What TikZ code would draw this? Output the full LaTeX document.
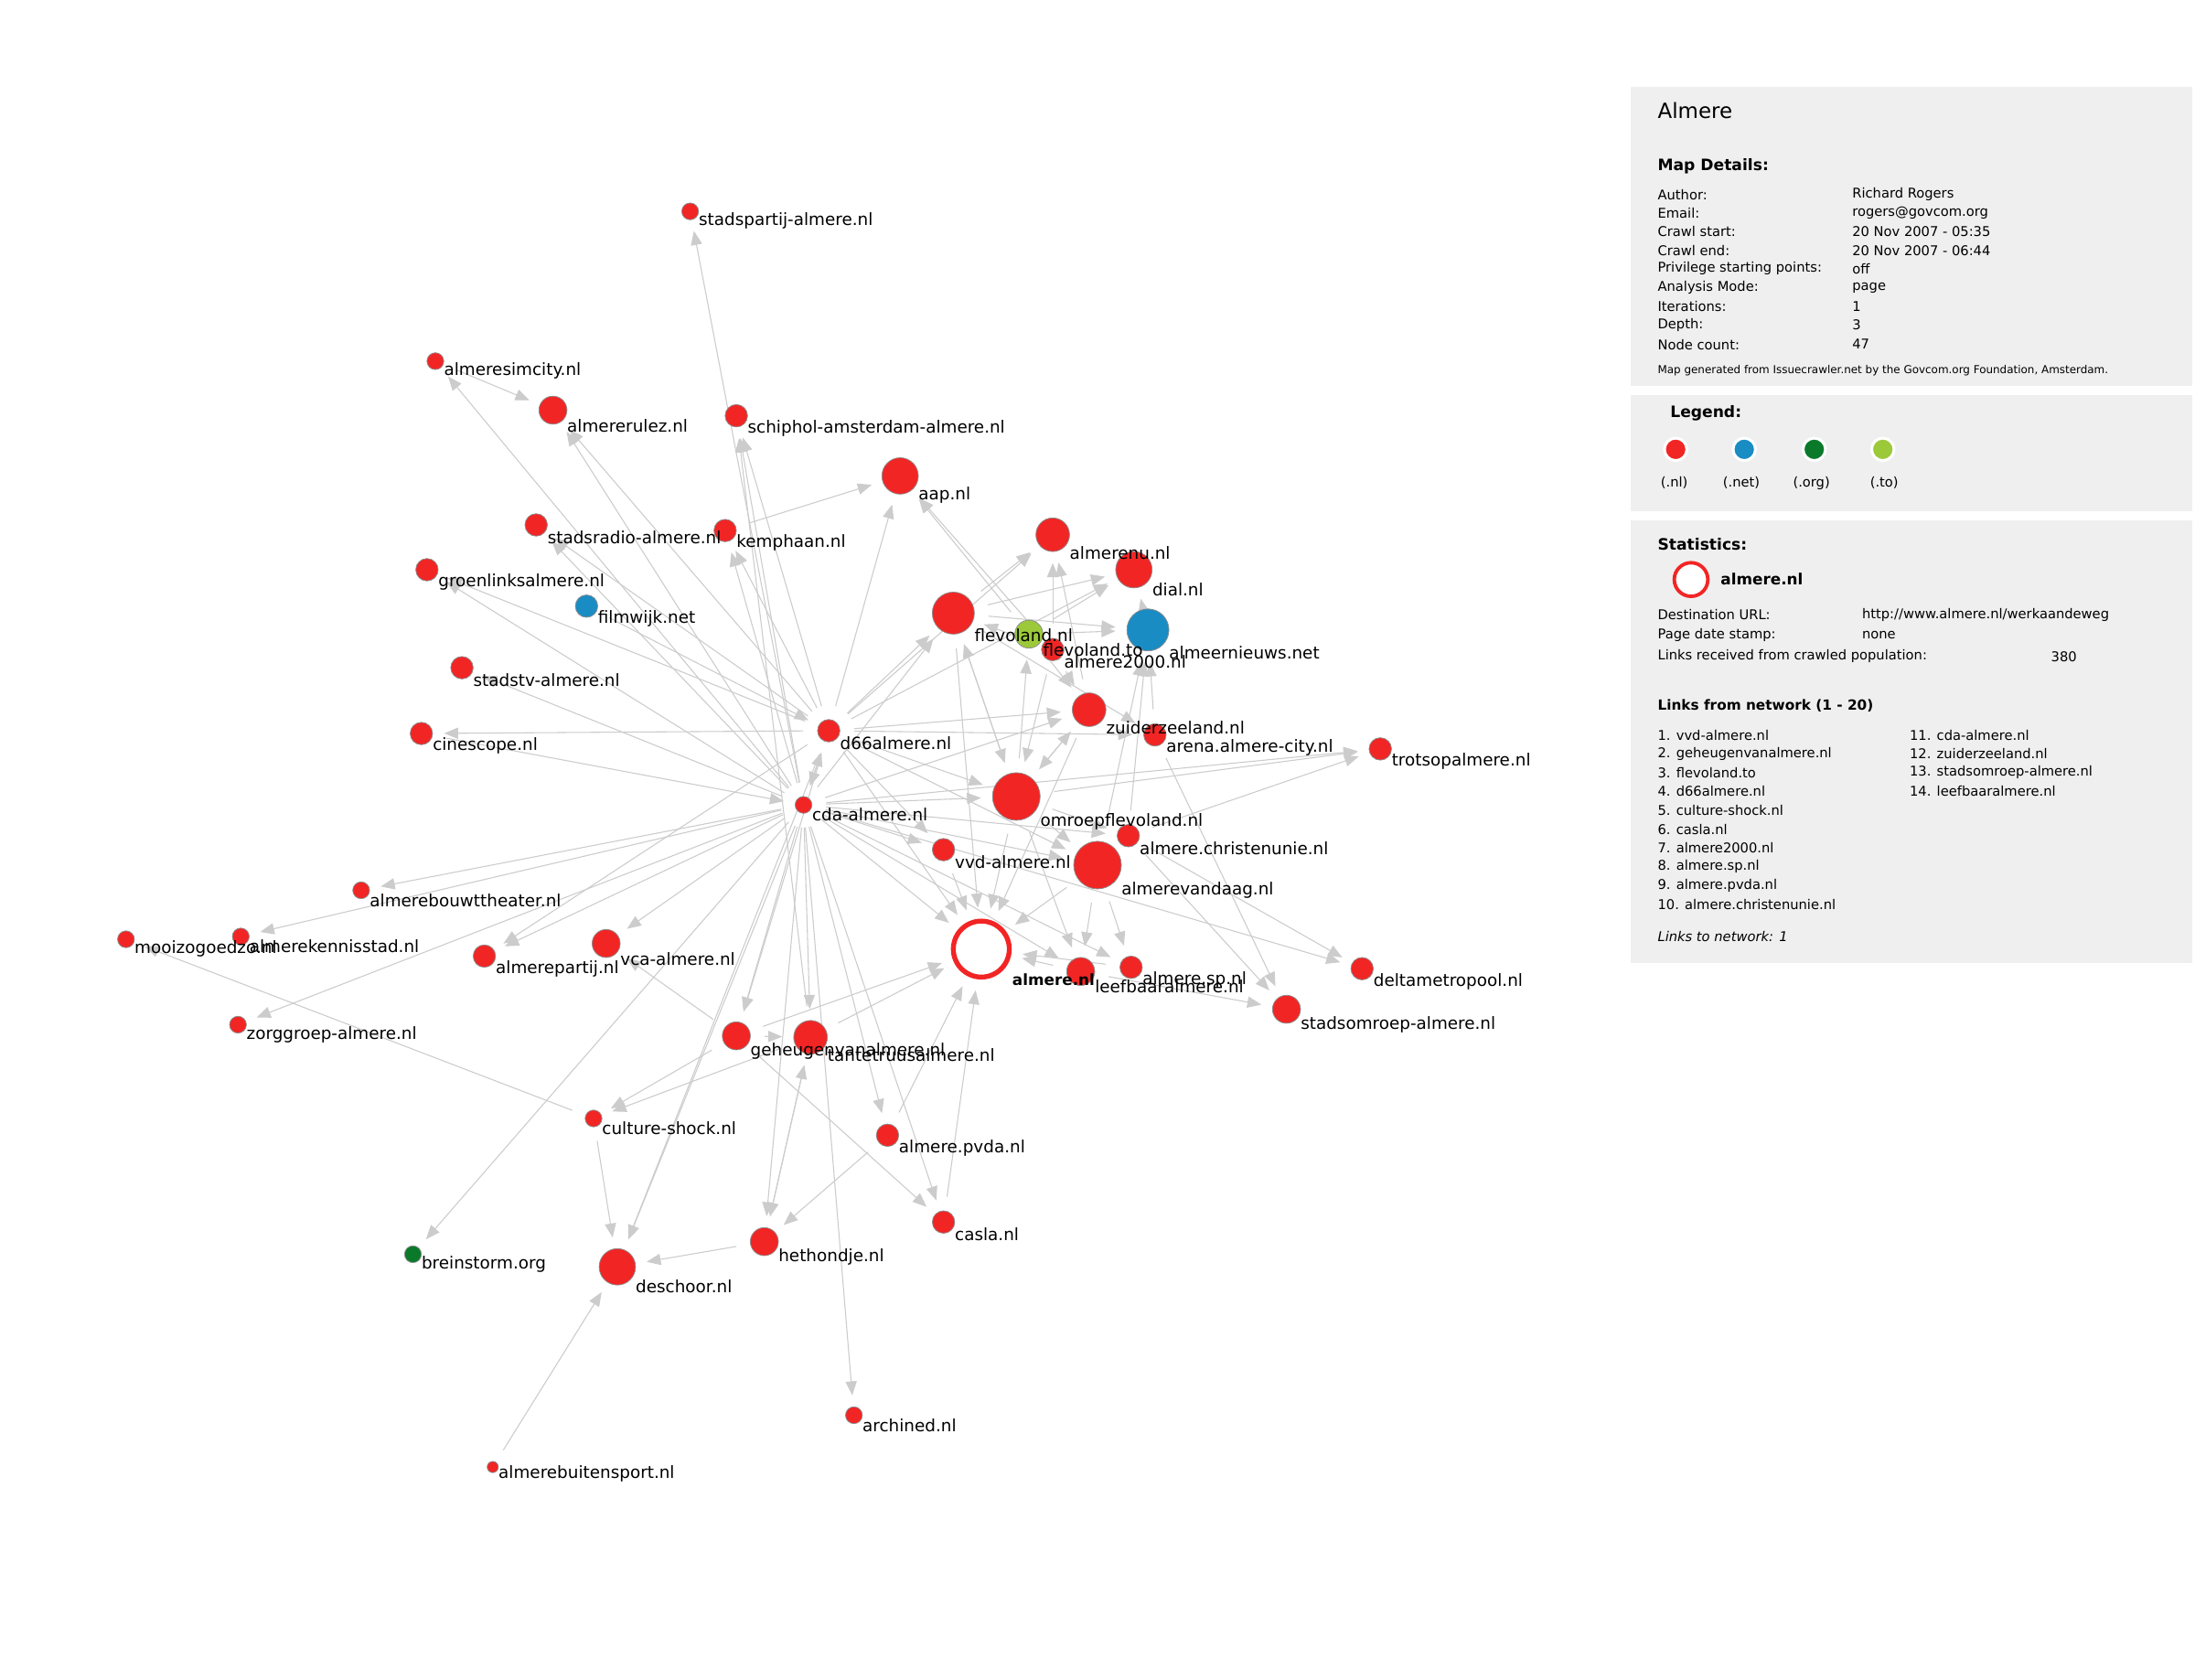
\documentclass[tikz,border=0pt]{standalone}
\usepackage{fontspec}
\setmainfont{DejaVu Sans}
\usetikzlibrary{arrows.meta}
\definecolor{nlred}{HTML}{F22525}
\definecolor{netblue}{HTML}{1A8CC4}
\definecolor{orggreen}{HTML}{0A7A2A}
\definecolor{togreen}{HTML}{9CC93A}
\definecolor{edgec}{HTML}{CCCCCC}
\definecolor{panelbg}{HTML}{EFEFEF}
\pgfdeclarelayer{paper}\pgfdeclarelayer{bg}\pgfdeclarelayer{fg}\pgfsetlayers{paper,bg,main,fg}
\newcommand{\site}[7]{%
  \node[dot, fill=#5, minimum size=2*#4] (#1) at (#2,#3) {};
  \begin{pgfonlayer}{fg}\node[lbl,#7] (#1-l) at (#2+#4,#3+#4+1) {#6};\end{pgfonlayer}}
\newcommand{\prow}[4]{% name, y, label, value
  \node[ptxt] (#1a) at (1184,#2) {#3};
  \node[ptxt] (#1b) at (1323,#2) {#4};}
\begin{document}
\begin{tikzpicture}[x=1pt,y=-1pt,
  dot/.style={circle, draw=black!45, line width=0.5pt, inner sep=0pt},
  lbl/.style={anchor=west, inner sep=0pt, font=\fontsize{12}{12}\selectfont},
  lnk/.style={draw=edgec, line width=0.7pt, -{Triangle[length=10pt,width=8pt]}, shorten <=10pt, shorten >=8pt},
  panel/.style={fill=panelbg, draw=none},
  ptxt/.style={anchor=west, inner sep=0pt, font=\fontsize{9.6}{10}\selectfont},
  phead/.style={anchor=west, inner sep=0pt, font=\fontsize{11.2}{12}\selectfont\bfseries},
  leg/.style={circle, draw=white, line width=2pt, inner sep=0pt, minimum size=16}]
\useasboundingbox (0,0) rectangle (1568,1200);
\begin{pgfonlayer}{paper}\fill[white] (0,0) rectangle (1568,1200);\end{pgfonlayer}

% ---------- nodes ----------
\site{spa}{493}{151}{6}{nlred}{stadspartij-almere.nl}{}
\site{sim}{311}{258}{6}{nlred}{almeresimcity.nl}{}
\site{rul}{395}{293}{10}{nlred}{almererulez.nl}{}
\site{sch}{526}{297}{8}{nlred}{schiphol-amsterdam-almere.nl}{}
\site{aap}{643}{340}{13}{nlred}{aap.nl}{}
\site{sra}{383}{375}{8}{nlred}{stadsradio-almere.nl}{}
\site{kem}{518}{379}{8}{nlred}{kemphaan.nl}{}
\site{anu}{752}{382}{12}{nlred}{almerenu.nl}{}
\site{dial}{810}{407}{13}{nlred}{dial.nl}{}
\site{gl}{305}{407}{8}{nlred}{groenlinksalmere.nl}{}
\site{fw}{419}{433}{8}{netblue}{filmwijk.net}{}
\site{fnl}{681}{438}{15}{nlred}{flevoland.nl}{}
\site{fto}{735}{453}{10}{togreen}{flevoland.to}{}
\site{a2k}{752}{464}{8}{nlred}{almere2000.nl}{}
\site{anw}{820}{450}{15}{netblue}{almeernieuws.net}{}
\site{stv}{330}{477}{8}{nlred}{stadstv-almere.nl}{}
\site{d66}{592}{522}{8}{nlred}{d66almere.nl}{}
\site{zz}{778}{507}{12}{nlred}{zuiderzeeland.nl}{}
\site{are}{825}{525}{8}{nlred}{arena.almere-city.nl}{}
\site{tro}{986}{535}{8}{nlred}{trotsopalmere.nl}{}
\site{cin}{301}{524}{8}{nlred}{cinescope.nl}{}
\site{cda}{574}{575}{6}{nlred}{cda-almere.nl}{}
\site{omr}{726}{569}{17}{nlred}{omroepflevoland.nl}{}
\site{cu}{806}{597}{8}{nlred}{almere.christenunie.nl}{}
\site{vvd}{674}{607}{8}{nlred}{vvd-almere.nl}{}
\site{avd}{784}{618}{17}{nlred}{almerevandaag.nl}{}
\site{abt}{258}{636}{6}{nlred}{almerebouwttheater.nl}{}
\site{mzg}{90}{671}{6}{nlred}{mooizogoedzo.nl}{}
\site{aks}{172}{669}{6}{nlred}{almerekennisstad.nl}{}
\site{vca}{433}{674}{10}{nlred}{vca-almere.nl}{}
\site{apa}{346}{683}{8}{nlred}{almerepartij.nl}{}
\node[circle, draw=nlred, line width=3.5pt, fill=white, inner sep=0pt, minimum size=40] (alm) at (701,678) {};
\begin{pgfonlayer}{fg}\node[lbl, font=\fontsize{11}{11}\selectfont\bfseries] (alm-l) at (723,700) {almere.nl};\end{pgfonlayer}
\site{lee}{772}{694}{10}{nlred}{leefbaaralmere.nl}{}
\site{sp}{808}{691}{8}{nlred}{almere.sp.nl}{}
\site{dm}{973}{692}{8}{nlred}{deltametropool.nl}{}
\site{som}{919}{721}{10}{nlred}{stadsomroep-almere.nl}{}
\site{zg}{170}{732}{6}{nlred}{zorggroep-almere.nl}{}
\site{geh}{526}{740}{10}{nlred}{geheugenvanalmere.nl}{}
\site{tt}{579}{741}{12}{nlred}{tantetruusalmere.nl}{}
\site{cs}{424}{799}{6}{nlred}{culture-shock.nl}{}
\site{pvda}{634}{811}{8}{nlred}{almere.pvda.nl}{}
\site{cas}{674}{873}{8}{nlred}{casla.nl}{}
\site{hh}{546}{887}{10}{nlred}{hethondje.nl}{}
\site{bst}{295}{896}{6}{orggreen}{breinstorm.org}{}
\site{ds}{441}{905}{13}{nlred}{deschoor.nl}{}
\site{arc}{610}{1011}{6}{nlred}{archined.nl}{}
\site{abs}{352}{1048}{4}{nlred}{almerebuitensport.nl}{}

% ---------- edges ----------
\begin{pgfonlayer}{bg}
\foreach \a/\b in {cda/spa, cda/sim, sim/rul, cda/rul, d66/rul, cda/sch, d66/sch, tt/sch,
  kem/aap, d66/aap, fto/aap, a2k/aap, cda/kem, d66/kem, cda/sra, d66/sra, cda/gl, d66/gl,
  fw/d66, cda/stv, d66/cin, cin/cda,
  fnl/anu, a2k/anu, zz/anu, d66/anu, fnl/dial, fto/dial, d66/dial, anw/dial,
  fnl/anw, fto/anw, are/anw, avd/anw, cu/anw, cda/fnl, d66/fnl, omr/fnl, a2k/fnl,
  a2k/fto, omr/fto, d66/cda, cda/d66, cda/zz, fto/zz, a2k/zz, omr/zz, d66/zz,
  d66/are, fnl/are, cda/tro, cu/tro, omr/tro,
  d66/omr, cda/omr, fnl/omr, a2k/omr, zz/omr, cda/cu, omr/cu, cda/vvd, d66/vvd,
  cda/avd, d66/avd, omr/avd, cda/abt, cda/aks, cs/mzg, cda/zg, cda/vca, geh/vca,
  cda/apa, d66/apa, lee/alm, sp/alm, geh/alm, tt/alm, pvda/alm, cas/alm, cda/alm,
  d66/alm, omr/alm, vvd/alm, avd/alm, zz/alm, fnl/alm,
  avd/lee, cda/lee, omr/lee, avd/sp, cda/sp, cda/dm, cu/dm, lee/som, are/som, cu/som,
  cda/geh, d66/geh, cda/tt, geh/tt, hh/tt, geh/cs, tt/cs, cda/pvda, geh/cas, cda/cas,
  tt/hh, cda/hh, pvda/hh, cda/bst, cs/ds, cda/ds, d66/ds, hh/ds, abs/ds, cda/arc}
  \draw[lnk] (\a) -- (\b);
\end{pgfonlayer}

% ---------- panel 1 ----------
\fill[panel] (1165,62) rectangle (1566,276);
\node[anchor=west, inner sep=0pt, font=\fontsize{15}{16}\selectfont] (ttl) at (1184,79) {Almere};
\node[phead] (mdh) at (1184,119) {Map Details:};
\prow{r1}{139}{Author:}{Richard Rogers}
\prow{r2}{152}{Email:}{rogers@govcom.org}
\prow{r3}{165.5}{Crawl start:}{20 Nov 2007 - 05:35}
\prow{r4}{179}{Crawl end:}{20 Nov 2007 - 06:44}
\prow{r5}{192}{Privilege starting points:}{off}
\prow{r6}{205.5}{Analysis Mode:}{page}
\prow{r7}{219}{Iterations:}{1}
\prow{r8}{232}{Depth:}{3}
\prow{r9}{246}{Node count:}{47}
\node[anchor=west, inner sep=0pt, font=\fontsize{7.8}{8}\selectfont] (foot) at (1184,265) {Map generated from Issuecrawler.net by the Govcom.org Foundation, Amsterdam.};

% ---------- panel 2 ----------
\fill[panel] (1165,282) rectangle (1566,365);
\node[phead] (legh) at (1193,295) {Legend:};
\node[leg, fill=nlred] (l1) at (1197,321) {};
\node[leg, fill=netblue] (l2) at (1246,321) {};
\node[leg, fill=orggreen] (l3) at (1296,321) {};
\node[leg, fill=togreen] (l4) at (1345,321) {};
\node[ptxt, anchor=center] (l1t) at (1196,345) {(.nl)};
\node[ptxt, anchor=center] (l2t) at (1244,345) {(.net)};
\node[ptxt, anchor=center] (l3t) at (1294,345) {(.org)};
\node[ptxt, anchor=center] (l4t) at (1346,345) {(.to)};

% ---------- panel 3 ----------
\fill[panel] (1165,372) rectangle (1566,688);
\node[phead] (sth) at (1184,389) {Statistics:};
\node[circle, draw=nlred, line width=2.5pt, fill=white, inner sep=0pt, minimum size=24] (stc) at (1208,414) {};
\node[anchor=west, inner sep=0pt, font=\fontsize{11}{11}\selectfont\bfseries] (stn) at (1229,414) {almere.nl};
\node[ptxt] (s1a) at (1184,439) {Destination URL:};
\node[ptxt] (s1b) at (1330,439) {http://www.almere.nl/werkaandeweg};
\node[ptxt] (s2a) at (1184,454) {Page date stamp:};
\node[ptxt] (s2b) at (1330,454) {none};
\node[ptxt] (s3a) at (1184,469) {Links received from crawled population:};
\node[ptxt] (s3b) at (1465,469) {380};
\node[anchor=west, inner sep=0pt, font=\fontsize{10}{11}\selectfont\bfseries] (lfh) at (1184,504) {Links from network (1 - 20)};
\foreach \t [count=\i] in {vvd-almere.nl, geheugenvanalmere.nl, flevoland.to, d66almere.nl, culture-shock.nl, casla.nl, almere2000.nl, almere.sp.nl, almere.pvda.nl, almere.christenunie.nl}
  \node[ptxt] (ll\i) at (1184,525+13.45*\i-13.45) {\i. \t};
\foreach \t [count=\i from 11] in {cda-almere.nl, zuiderzeeland.nl, stadsomroep-almere.nl, leefbaaralmere.nl}
  \node[ptxt] (lr\i) at (1364,525+13.45*\i-147.95) {\i. \t};
\node[ptxt, font=\fontsize{9.6}{10}\selectfont\itshape] (ltn) at (1184,669) {Links to network: 1};
\end{tikzpicture}
\end{document}
